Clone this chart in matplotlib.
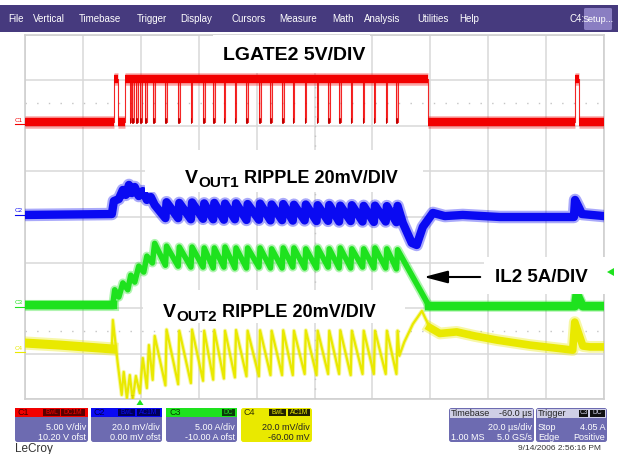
import matplotlib
matplotlib.use("Agg")
import matplotlib.pyplot as plt
from matplotlib.patches import Rectangle, FancyBboxPatch, Polygon

W, H, DPI = 618, 454, 100
plt.rcParams['font.family'] = ['Liberation Sans', 'DejaVu Sans']

# ---------------- acquisition settings ----------------
time_per_div = 20.0          # µs/div
trigger_delay = -60.0        # µs
ch_names = ["C1", "C2", "C3", "C4"]
ch_scale = [5.0, 20.0, 5.0, 20.0]          # V, mV, A, mV per div
ch_offset = [10.20, 0.0, -10.0, -60.0]
ch_colors = ["#f20000", "#0a0af2", "#1ee21e", "#e9e900"]
ch_tags = [["BwL", "DC1M"], ["BwL", "AC1M"], ["DC"], ["BwL", "AC1M"]]
ch_vdiv_text = ["5.00 V/div", "20.0 mV/div", "5.00 A/div", "20.0 mV/div"]
ch_ofst_text = ["10.20 V ofst", "0.00 mV ofst", "-10.00 A ofst", "-60.00 mV"]
timebase_text = ["-60.0 µs", "20.0 µs/div", "1.00 MS", "5.0 GS/s"]
trigger_text = ["Stop", "4.05 A", "Edge", "Positive"]
menu_items = ["File", "Vertical", "Timebase", "Trigger", "Display", "Cursors",
              "Measure", "Math", "Analysis", "Utilities", "Help"]
timestamp = "9/14/2006 2:56:16 PM"

# ---------------- C1: LGATE2 (V) ----------------
lgate_low = 0.2
lgate_high = 5.0
lgate_first_pulse = (-9.3, -7.9)
lgate_burst = (-5.5, 99.2)
lgate_last_pulse = (150.0, 151.4)
lgate_dips = [-3.8, -3.0, -1.5, -0.3, 1.6, 4.2, 8.5, 12.9, 17.3, 21.5, 25.0,
              28.7, 32.5, 36.5, 40.8, 44.8, 48.8, 52.5, 56.6, 60.7, 64.7,
              68.5, 72.5, 76.6, 80.5, 84.6, 88.3]
dip_width = 0.55
ripple_edges = lgate_dips[6:]
edge_rise = 0.4

# ---------------- C2: VOUT1 ripple (mV) ----------------
v1_start_t = [-40.0, -10.0, -9.3, -7.6, -6.2, -5.2, -4.1, -3.1, -2.1, -0.7, 0.7, 2.1, 3.45, 4.8]
v1_start_v = [0.9, 1.3, 7.0, 7.9, 11.9, 9.7, 14.1, 10.5, 13.2, 9.2, 11.4, 7.5, 8.8, 5.3]
v1_trough = [-0.5, -0.5, -1.0, -0.8, -1.0, -1.2, -1.0, -1.3, -1.2, -1.5, -1.4, -1.6,
             -1.5, -1.8, -1.7, -2.0, -1.8, -2.0, -2.2, -2.0, -2.3]
v1_peak = [6.5, 6.2, 6.4, 6.0, 6.2, 5.9, 6.0, 5.7, 5.9, 5.5, 5.7, 5.4, 5.5, 5.2,
           5.3, 5.0, 5.2, 4.9, 5.0, 4.8, 4.9]
v1_end_t = [90.5, 93.6, 95.3, 97.4, 100.9, 105.0, 111.2, 124.0, 149.6, 150.0, 151.0, 152.4, 160.0]
v1_end_v = [-2.6, -11.4, -12.3, -4.4, 1.8, 0.4, 0.9, 0.0, 0.0, 7.5, 5.0, 1.3, 0.4]

# ---------------- C3: IL2 inductor current (A) ----------------
il_start_t = [-40.0, -9.7, -9.0, -7.6, -6.2, -4.5, -3.45, -2.1, -0.7, 1.0, 2.1, 4.0, 4.8]
il_start_v = [0.3, 0.3, 2.0, 1.2, 2.75, 2.0, 3.6, 2.85, 4.6, 3.95, 5.7, 4.95, 7.1]
il_trough = [4.7, 4.6, 4.5, 4.5, 4.4, 4.5, 4.4, 4.4, 4.5, 4.4, 4.4, 4.5, 4.4,
             4.4, 4.5, 4.4, 4.4, 4.5, 4.4, 4.4, 4.3]
il_peak = [6.8, 6.7, 6.7, 6.6, 6.6, 6.7, 6.6, 6.6, 6.6, 6.5, 6.6, 6.6, 6.5,
           6.6, 6.5, 6.6, 6.5, 6.5, 6.6, 6.5, 6.4]
il_end_t = [99.6, 150.0, 150.6, 152.6, 160.0]
il_end_v = [0.2, 0.2, 1.6, 0.2, 0.2]

# ---------------- C4: VOUT2 ripple (mV) ----------------
v2_start_t = [-40.0, -28.0, -10.0, -9.65, -7.9, -6.6, -5.9, -4.8, -3.8, -2.8, -1.7,
              -0.35, 0.7, 2.1, 2.8, 4.1, 4.8]
v2_start_v = [4.6, 3.7, 2.0, 14.7, -5.1, -18.2, -8.1, -19.6, -9.5, -20.4, -9.9,
              -17.4, -2.0, -15.2, 3.7, -11.6, 7.7]
v2_trough = [-14.0, -13.5, -13.0, -12.0, -11.5, -11.0, -10.5, -10.0, -10.0, -9.5,
             -9.5, -9.5, -9.0, -9.5, -9.0, -9.0, -9.5, -9.0, -9.0, -9.0, -9.0]
v2_peak = [10.5, 10.0, 10.5, 10.0, 10.3, 10.0, 10.3, 10.0, 10.2, 10.0, 10.2,
           10.0, 10.2, 10.0, 10.0, 10.2, 10.0, 10.0, 10.0, 10.0, 10.0]
v2_end_t = [89.3, 91.0, 94.0, 97.1, 99.8, 103.3, 109.1, 115.4, 123.0, 134.4,
            149.2, 149.9, 152.7, 155.1, 160.0]
v2_end_v = [-1.0, 5.0, 13.0, 18.7, 11.4, 8.8, 9.5, 7.7, 5.9, 3.7, 1.5, 13.8,
            3.3, 2.9, 2.9]


def to_div(values, ch):
    """Scope vertical transform: value -> screen division (0 = bottom)."""
    return [(v + ch_offset[ch]) / ch_scale[ch] + 4.0 for v in values]


def sawtooth(start_t, start_v, troughs, peaks, end_t, end_v):
    t, v = list(start_t), list(start_v)
    for te, lo, hi in zip(ripple_edges, troughs, peaks):
        t += [te, te + edge_rise]
        v += [lo, hi]
    return t + list(end_t), v + list(end_v)


fig = plt.figure(figsize=(W / DPI, H / DPI), dpi=DPI)
fig.patch.set_facecolor("white")

# ---------------- scope screen ----------------
gx0, gy0, gx1, gy1 = 25, 35, 604, 399
ax = fig.add_axes([gx0 / W, 1 - gy1 / H, (gx1 - gx0) / W, (gy1 - gy0) / H])
x_center = -trigger_delay
ax.set_xlim(x_center - 5 * time_per_div, x_center + 5 * time_per_div)
ax.set_ylim(0, 8)
ax.set_xticks([x_center + (k - 5) * time_per_div for k in range(11)])
ax.set_yticks(range(9))
ax.tick_params(length=0, labelbottom=False, labelleft=False)
ax.grid(True, color="#d9d9d9", lw=1.1)
ax.set_axisbelow(True)
for s in ax.spines.values():
    s.set_color("#cfcfcf")
    s.set_linewidth(1.2)
ax.hlines([1.5, 6.5], -40, 160, colors="#c4c4c4", lw=1.0,
          linestyles=(0, (1.0, 7.4)), zorder=1)
ax.vlines([x_center], 0, 8, colors="#c4c4c4", lw=1.0,
          linestyles=(0, (1.0, 6.0)), zorder=1)

# C1 LGATE2
hi_d = to_div([lgate_high], 0)[0]
lo_d = to_div([lgate_low], 0)[0]
highs = [lgate_first_pulse, lgate_burst, lgate_last_pulse]
lt, lv = [-40.0], [lgate_low]
for a, b in [lgate_first_pulse]:
    lt += [a, a, b, b]
    lv += [lgate_low, lgate_high, lgate_high, lgate_low]
lt += [lgate_burst[0], lgate_burst[0]]
lv += [lgate_low, lgate_high]
for d in lgate_dips:
    lt += [d, d, d + dip_width, d + dip_width]
    lv += [lgate_high, lgate_low, lgate_low, lgate_high]
    ax.fill_between([d, d + dip_width], lo_d, hi_d, color=ch_colors[0],
                    alpha=0.3, lw=0, zorder=3)
lt += [lgate_burst[1], lgate_burst[1]]
lv += [lgate_high, lgate_low]
for a, b in [lgate_last_pulse]:
    lt += [a, a, b, b]
    lv += [lgate_low, lgate_high, lgate_high, lgate_low]
lt.append(160.0)
lv.append(lgate_low)
ax.plot(lt, to_div(lv, 0), color=ch_colors[0], lw=0.8, alpha=0.85, zorder=3)
lows = [(-40.0, lgate_first_pulse[0]), (lgate_first_pulse[1], lgate_burst[0]),
        (lgate_burst[1], lgate_last_pulse[0]), (lgate_last_pulse[1], 160.0)]
dip_bottoms = [(d, d + dip_width) for d in lgate_dips]
for lw_, al in ((9.0, 0.35), (6.0, 1.0)):
    ax.hlines([hi_d] * len(highs), [a for a, b in highs], [b for a, b in highs],
              colors=ch_colors[0], lw=lw_, alpha=al, capstyle="butt", zorder=4)
    ax.hlines([lo_d] * len(lows), [a for a, b in lows], [b for a, b in lows],
              colors=ch_colors[0], lw=lw_, alpha=al, capstyle="butt", zorder=4)
ax.hlines([lo_d + 0.04] * len(dip_bottoms), [a for a, b in dip_bottoms],
          [b for a, b in dip_bottoms], colors="#c00000", lw=4.0, capstyle="butt",
          zorder=4)


def band(t, v, ch, core, halo, z):
    d = to_div(v, ch)
    ax.plot(t, d, color=ch_colors[ch], lw=halo, alpha=0.35,
            solid_joinstyle="round", zorder=z)
    ax.plot(t, d, color=ch_colors[ch], lw=core,
            solid_joinstyle="round", zorder=z + 0.1)


v1_t, v1_v = sawtooth(v1_start_t, v1_start_v, v1_trough, v1_peak, v1_end_t, v1_end_v)
il_t, il_v = sawtooth(il_start_t, il_start_v, il_trough, il_peak, il_end_t, il_end_v)
v2_t, v2_v = sawtooth(v2_start_t, v2_start_v, v2_trough, v2_peak, v2_end_t, v2_end_v)

band(v1_t, v1_v, 1, 6.0, 9.0, 5)
band(il_t, il_v, 2, 4.0, 6.5, 6)
band(v2_t, v2_v, 3, 1.6, 3.0, 7)
# the flat, noisy stretches show a wider band
band(v2_t[:3], v2_v[:3], 3, 6.5, 9.5, 7)
band(v2_t[-11:], v2_v[-11:], 3, 5.5, 8.5, 7)
band(il_t[:2], il_v[:2], 2, 6.0, 8.0, 6)
band(il_t[-5:], il_v[-5:], 2, 6.0, 8.0, 6)

# ---------------- overlay in pixel coordinates ----------------
ui = fig.add_axes([0, 0, 1, 1], zorder=10)
ui.set_xlim(0, W)
ui.set_ylim(H, 0)
ui.axis("off")
R = fig.canvas.get_renderer()


def rbox(x0, y0, x1, y1, fc, r=2.0, ec="none", lw=0.0, z=5):
    ui.add_patch(FancyBboxPatch((x0, y0), x1 - x0, y1 - y0,
                                boxstyle=f"round,pad=0,rounding_size={r}",
                                fc=fc, ec=ec, lw=lw, zorder=z))


# menu bar
ui.add_patch(Rectangle((0, 5), W, 27, fc="#463a7e", ec="none", zorder=5))
menu_x = [8, 33, 79, 137, 180, 231, 279, 332, 364, 417, 459]
for name, mx in zip(menu_items, menu_x):
    ui.text(mx, 19, name, color="white", fontsize=7, va="center", ha="left", zorder=6)
ui.text(569, 19, "C4:", color="white", fontsize=7, va="center", ha="left", zorder=6)
rbox(584, 8, 612, 30, "#8a7ec2", r=1.5, z=6)
ui.text(598, 19, "Setup...", color="white", fontsize=6.5, va="center", ha="center", zorder=7)

# annotation labels on white patches
for (x0, y0, x1, y1) in [(213, 35, 370, 73), (145, 150, 423, 192),
                         (484, 257, 618, 294), (143, 290, 405, 323)]:
    ui.add_patch(Rectangle((x0, y0), x1 - x0, y1 - y0, fc="white", ec="none", zorder=1))


def compose(x, y, parts):
    for s, size, dy, gap in parts:
        t = ui.text(x, y + dy, s, fontsize=size, fontweight="bold", color="black",
                    va="baseline", ha="left", zorder=8)
        x += t.get_window_extent(renderer=R).width + gap


compose(223, 60, [("LGATE2 5V/DIV", 14, 0, 0)])
compose(185, 183, [("V", 14, 0, 0), ("OUT1", 11, 4, 5), ("RIPPLE 20mV/DIV", 13, 0, 0)])
compose(495, 282, [("IL2 5A/DIV", 13.5, 0, 0)])
compose(163, 317, [("V", 14, 0, 0), ("OUT2", 11, 4, 5), ("RIPPLE 20mV/DIV", 13, 0, 0)])
ui.annotate("", xy=(421, 277), xytext=(483, 277),
            arrowprops=dict(arrowstyle="-|>,head_length=1.45,head_width=0.38",
                            mutation_scale=10, lw=1.5, color="black"), zorder=8)

# trace reference markers at left edge
for ch, yy in zip(range(4), [120, 211, 303, 348]):
    ui.text(15, yy, ch_names[ch], fontsize=4.5, color=ch_colors[ch], va="center",
            ha="left", zorder=8)
    ui.plot([15, 25], [yy + 4, yy + 4], color=ch_colors[ch], lw=0.8, zorder=8)

# trigger markers
ui.add_patch(Polygon([(607, 272), (614, 268), (614, 276)], closed=True,
                     fc=ch_colors[2], ec="none", zorder=8))
ui.add_patch(Polygon([(136.5, 405), (143.5, 405), (140, 399.5)], closed=True,
                     fc=ch_colors[2], ec="none", zorder=8))
ui.text(132.5, 397.5, "T", fontsize=4, color="#d8c800", ha="center", va="center",
        fontweight="bold", zorder=8)

# channel status boxes
body_fc = "#6d6bb1"
box_x = [(15, 88), (91, 162), (166, 237), (241, 312)]
tag_spans = [[(43, 60), (61, 85)], [(118, 135), (137, 160)], [(222, 235)],
             [(269, 286), (288, 310)]]
tag_fc = ["#5a0000", "#00005a", "#0a3a0a", "#222200"]
label_fc = ["#400000", "#000050", "#004000", "#333300"]
for ch, (x0, x1) in enumerate(box_x):
    col = ch_colors[ch]
    if ch == 3:
        rbox(x0, 408, x1, 442, col, r=2.5)
        txt = "#222222"
    else:
        rbox(x0, 408, x1, 442, body_fc, r=2.5)
        ui.add_patch(Rectangle((x0, 408), x1 - x0, 9, fc=col, ec="none", zorder=5.5))
        txt = "white"
    ui.text(x0 + 3, 412.5, ch_names[ch], fontsize=6.5, color=label_fc[ch],
            va="center", ha="left", zorder=7)
    for (a, b), tag in zip(tag_spans[ch], ch_tags[ch]):
        ui.add_patch(Rectangle((a, 409), b - a, 7, fc=tag_fc[ch], ec="none", zorder=6))
        ui.text((a + b) / 2, 412.6, tag, fontsize=4.8, color=col, va="center",
                ha="center", zorder=7)
    ui.text(x1 - 2, 427, ch_vdiv_text[ch], fontsize=6.5, color=txt, va="center",
            ha="right", zorder=7)
    ui.text(x1 - 2, 437, ch_ofst_text[ch], fontsize=6.5, color=txt, va="center",
            ha="right", zorder=7)

# timebase box
rbox(449, 408, 534, 442, body_fc, r=2.5)
ui.add_patch(Rectangle((450, 409), 83, 9, fc="#cfcfe6", ec="none", zorder=5.5))
ui.text(451, 413, "Timebase", fontsize=6.5, color="#222222", va="center", ha="left", zorder=7)
ui.text(532, 413, timebase_text[0], fontsize=6.5, color="#222222", va="center", ha="right", zorder=7)
ui.text(532, 427, timebase_text[1], fontsize=6.5, color="white", va="center", ha="right", zorder=7)
ui.text(451, 437, timebase_text[2], fontsize=6.5, color="white", va="center", ha="left", zorder=7)
ui.text(532, 437, timebase_text[3], fontsize=6.5, color="white", va="center", ha="right", zorder=7)

# trigger box
rbox(536, 408, 607, 442, body_fc, r=2.5)
ui.add_patch(Rectangle((537, 409), 69, 9, fc="#cfcfe6", ec="none", zorder=5.5))
ui.text(538, 413, "Trigger", fontsize=6.5, color="#222222", va="center", ha="left", zorder=7)
for (a, b), tag in zip([(579, 588), (590, 605)], ["C3", "DC"]):
    ui.add_patch(Rectangle((a, 409.5), b - a, 7, fc="#111111", ec="none", zorder=6))
    ui.text((a + b) / 2, 413, tag, fontsize=4.8, color="#cfcfe6", va="center", ha="center", zorder=7)
ui.text(538, 427, trigger_text[0], fontsize=6.5, color="white", va="center", ha="left", zorder=7)
ui.text(605, 427, trigger_text[1], fontsize=6.5, color="white", va="center", ha="right", zorder=7)
ui.text(538, 437, trigger_text[2], fontsize=6.5, color="white", va="center", ha="left", zorder=7)
ui.text(605, 437, trigger_text[3], fontsize=6.5, color="white", va="center", ha="right", zorder=7)

ui.text(15, 449, "LeCroy", fontsize=8.5, color="#333333", va="center", ha="left", zorder=7)
ui.text(601, 449, timestamp, fontsize=6, color="#333333", va="center", ha="right", zorder=7)

fig.savefig("out.png", dpi=DPI, facecolor="white")
